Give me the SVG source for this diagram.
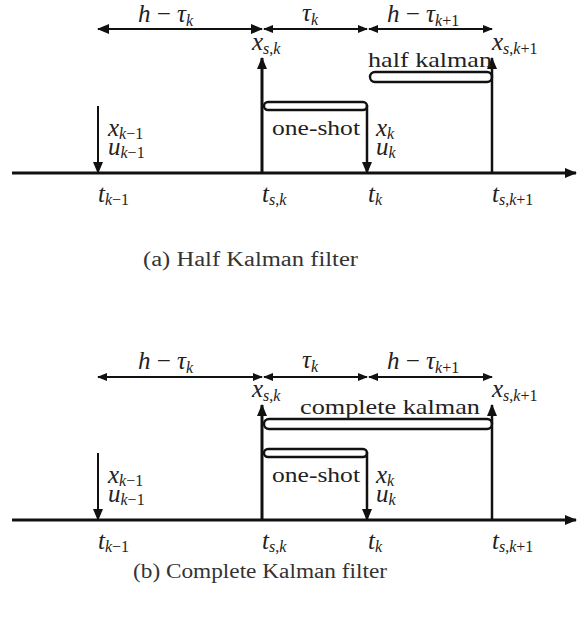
<svg xmlns="http://www.w3.org/2000/svg" width="577" height="626" viewBox="0 0 577 626">
<style>
.m{font-family:"Liberation Serif","DejaVu Serif",serif;font-style:italic;font-size:25px;fill:#222}
.s{font-size:16px}
.r{font-style:normal}
.w{font-family:"Liberation Serif","DejaVu Serif",serif;font-size:22px;fill:#222}
.cap{font-family:"Liberation Serif","DejaVu Serif",serif;font-size:20px;fill:#333}
.ax{stroke:#111;stroke-width:3;fill:none}
.v{stroke:#111;stroke-width:2.5;fill:none}
.d{stroke:#111;stroke-width:2;fill:none}
.br{stroke:#111;stroke-width:2.4;fill:none}
</style>
<defs>
<marker id="ah" markerUnits="userSpaceOnUse" markerWidth="12" markerHeight="10" refX="11" refY="5" orient="auto-start-reverse"><path d="M0,0 L12,5 L0,10 z" fill="#111"/></marker>
<marker id="as" markerUnits="userSpaceOnUse" markerWidth="10" markerHeight="8" refX="9" refY="4" orient="auto-start-reverse"><path d="M0,0 L10,4 L0,8 z" fill="#111"/></marker>
</defs>

<g id="panel-a">
<g id="connectors-a">
<line class="ax" x1="12" y1="173" x2="576" y2="173" marker-end="url(#ah)"/>
<line class="d" x1="98" y1="29" x2="262" y2="29" marker-start="url(#ah)" marker-end="url(#ah)"/>
<line class="d" x1="264" y1="29" x2="367" y2="29" marker-start="url(#as)" marker-end="url(#as)"/>
<line class="d" x1="369" y1="29" x2="492" y2="29" marker-start="url(#as)" marker-end="url(#as)"/>
<line class="d" x1="98" y1="106" x2="98" y2="173" marker-end="url(#ah)"/>
<line class="ax" x1="262" y1="173" x2="262" y2="58" marker-end="url(#ah)"/>
<line class="v" x1="367" y1="105" x2="367" y2="173" marker-end="url(#ah)"/>
<line class="v" x1="492" y1="173" x2="492" y2="58" marker-end="url(#ah)"/>
</g>
<g id="a-oneshot"><rect class="br" x="264" y="102" width="103" height="8" rx="4"/><text class="w" x="272" y="135" textLength="88" lengthAdjust="spacingAndGlyphs">one-shot</text></g>
<g id="a-half"><rect class="br" x="370" y="72" width="122" height="10" rx="5"/><text class="w" x="368" y="67" textLength="124" lengthAdjust="spacingAndGlyphs">half kalman</text></g>
<g id="a-dims">
<text class="m" x="138" y="22">h <tspan class="r">−</tspan> τ<tspan class="s" dy="4">k</tspan></text>
<text class="m" x="302" y="21">τ<tspan class="s" dy="4">k</tspan></text>
<text class="m" x="387" y="22">h <tspan class="r">−</tspan> τ<tspan class="s" dy="4">k<tspan class="r">+1</tspan></tspan></text>
</g>
<g id="a-xsk"><text class="m" x="252" y="50">x<tspan class="s" dy="4">s<tspan class="r">,</tspan>k</tspan></text></g>
<g id="a-xsk1"><text class="m" x="492" y="50">x<tspan class="s" dy="4">s<tspan class="r">,</tspan>k<tspan class="r">+1</tspan></tspan></text></g>
<g id="a-xk1"><text class="m" x="108" y="136">x<tspan class="s" dy="3">k<tspan class="r">−1</tspan></tspan><tspan x="108" y="155">u</tspan><tspan class="s" dy="3">k<tspan class="r">−1</tspan></tspan></text></g>
<g id="a-xk"><text class="m" x="376" y="136">x<tspan class="s" dy="3">k</tspan><tspan x="376" y="155">u</tspan><tspan class="s" dy="3">k</tspan></text></g>
<g id="a-ticks">
<text class="m" x="98" y="202">t<tspan class="s" dy="3">k<tspan class="r">−1</tspan></tspan></text>
<text class="m" x="262" y="202">t<tspan class="s" dy="3">s<tspan class="r">,</tspan>k</tspan></text>
<text class="m" x="368" y="202">t<tspan class="s" dy="3">k</tspan></text>
<text class="m" x="492" y="202">t<tspan class="s" dy="3">s<tspan class="r">,</tspan>k<tspan class="r">+1</tspan></tspan></text>
</g>
<text class="cap" x="143" y="266" textLength="215" lengthAdjust="spacingAndGlyphs">(a) Half Kalman filter</text>
</g>

<g id="panel-b">
<g id="connectors-b">
<line class="ax" x1="12" y1="520" x2="576" y2="520" marker-end="url(#ah)"/>
<line class="d" x1="98" y1="377" x2="262" y2="377" marker-start="url(#as)" marker-end="url(#as)"/>
<line class="d" x1="264" y1="377" x2="367" y2="377" marker-start="url(#as)" marker-end="url(#as)"/>
<line class="d" x1="369" y1="377" x2="492" y2="377" marker-start="url(#as)" marker-end="url(#as)"/>
<line class="d" x1="98" y1="453" x2="98" y2="520" marker-end="url(#ah)"/>
<line class="ax" x1="262" y1="520" x2="262" y2="405" marker-end="url(#ah)"/>
<line class="v" x1="367" y1="452" x2="367" y2="520" marker-end="url(#ah)"/>
<line class="v" x1="492" y1="520" x2="492" y2="405" marker-end="url(#ah)"/>
</g>
<g id="b-oneshot"><rect class="br" x="264" y="449" width="103" height="8" rx="4"/><text class="w" x="272" y="482" textLength="88" lengthAdjust="spacingAndGlyphs">one-shot</text></g>
<g id="b-complete"><rect class="br" x="264" y="419" width="228" height="10" rx="5"/><text class="w" x="300" y="414" textLength="180" lengthAdjust="spacingAndGlyphs">complete kalman</text></g>
<g id="b-dims">
<text class="m" x="138" y="369">h <tspan class="r">−</tspan> τ<tspan class="s" dy="4">k</tspan></text>
<text class="m" x="302" y="368">τ<tspan class="s" dy="4">k</tspan></text>
<text class="m" x="387" y="369">h <tspan class="r">−</tspan> τ<tspan class="s" dy="4">k<tspan class="r">+1</tspan></tspan></text>
</g>
<g id="b-xsk"><text class="m" x="252" y="397">x<tspan class="s" dy="4">s<tspan class="r">,</tspan>k</tspan></text></g>
<g id="b-xsk1"><text class="m" x="492" y="397">x<tspan class="s" dy="4">s<tspan class="r">,</tspan>k<tspan class="r">+1</tspan></tspan></text></g>
<g id="b-xk1"><text class="m" x="108" y="483">x<tspan class="s" dy="3">k<tspan class="r">−1</tspan></tspan><tspan x="108" y="502">u</tspan><tspan class="s" dy="3">k<tspan class="r">−1</tspan></tspan></text></g>
<g id="b-xk"><text class="m" x="376" y="483">x<tspan class="s" dy="3">k</tspan><tspan x="376" y="502">u</tspan><tspan class="s" dy="3">k</tspan></text></g>
<g id="b-ticks">
<text class="m" x="98" y="549">t<tspan class="s" dy="3">k<tspan class="r">−1</tspan></tspan></text>
<text class="m" x="262" y="549">t<tspan class="s" dy="3">s<tspan class="r">,</tspan>k</tspan></text>
<text class="m" x="368" y="549">t<tspan class="s" dy="3">k</tspan></text>
<text class="m" x="492" y="549">t<tspan class="s" dy="3">s<tspan class="r">,</tspan>k<tspan class="r">+1</tspan></tspan></text>
</g>
<text class="cap" x="133" y="578" textLength="254" lengthAdjust="spacingAndGlyphs">(b) Complete Kalman filter</text>
</g>
</svg>
